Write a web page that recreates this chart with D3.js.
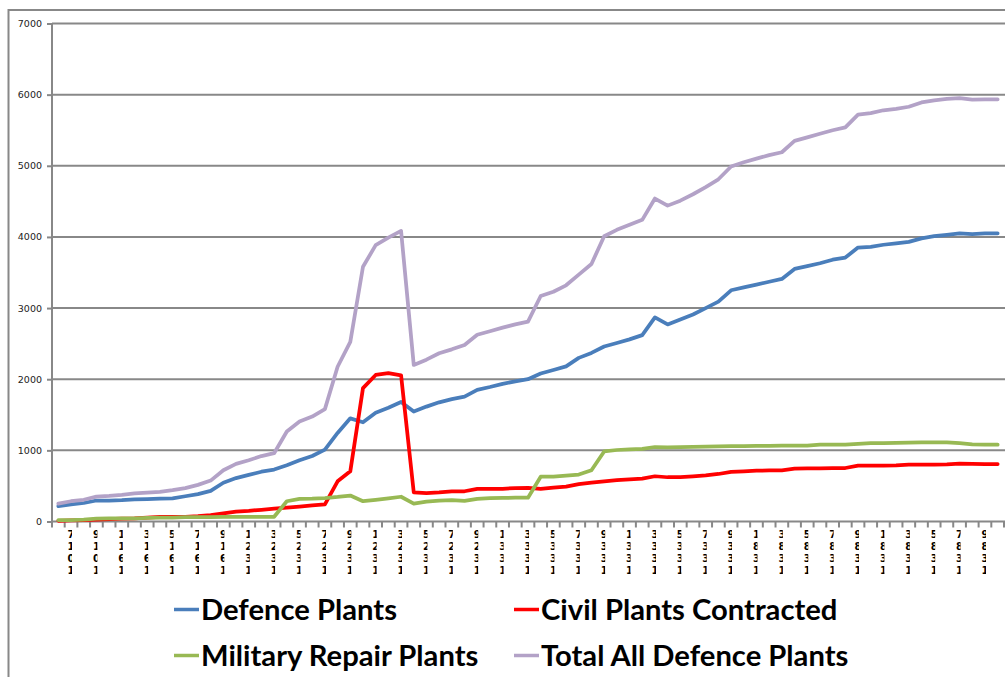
<!DOCTYPE html>
<html>
<head>
<meta charset="utf-8">
<script src="https://cdn.jsdelivr.net/npm/d3@7"></script>
<style>
  body { margin: 0; background: #fff; }
  svg { display: block; }
</style>
</head>
<body>
<svg id="chart" width="1005" height="677"></svg>
<script>
// data, one value per period (75 periods)
const defencePlants = [
  215, 240, 260, 295, 295, 300, 310, 315, 320, 325,
  355, 385, 430, 545, 610, 655, 700, 730, 790, 860,
  920, 1010, 1245, 1450, 1395, 1530, 1600, 1680, 1545, 1615,
  1675, 1720, 1755, 1850, 1890, 1935, 1970, 2000, 2080, 2130,
  2180, 2300, 2370, 2460, 2510, 2560, 2620, 2870, 2770, 2840,
  2910, 3000, 3090, 3250, 3290, 3330, 3370, 3410, 3550, 3590,
  3630, 3680, 3710, 3850, 3860, 3890, 3910, 3930, 3980, 4010,
  4030, 4050, 4040, 4050, 4050
];
const civilPlants = [
  10, 15, 20, 25, 35, 40, 45, 55, 65, 65,
  65, 75, 90, 115, 140, 150, 165, 180, 195, 210,
  225, 240, 565, 705, 1875, 2060, 2085, 2055, 410, 400,
  410, 425, 425, 458, 458, 460, 470, 472, 460, 475,
  490, 525, 545, 565, 580, 592, 602, 636, 622, 625,
  635, 648, 668, 697, 705, 715, 717, 719, 743, 745,
  748, 750, 752, 785, 786, 787, 788, 798, 800, 801,
  803, 812, 810, 808, 808
];
const militaryRepair = [
  20, 20, 25, 40, 45, 45, 45, 50, 55, 55,
  60, 60, 60, 65, 65, 65, 65, 66, 285, 318,
  320, 330, 345, 365, 285, 305, 325, 348, 252, 280,
  295, 300, 290, 318, 327, 332, 335, 335, 630, 630,
  645, 660, 720, 985, 1005, 1015, 1020, 1047, 1042, 1045,
  1050, 1053, 1056, 1058, 1060, 1062, 1063, 1065, 1065, 1065,
  1079, 1079, 1079, 1090, 1100, 1103, 1105, 1110, 1112, 1112,
  1112, 1100, 1085, 1080, 1080
];
const totalPlants = [
  250, 285, 305, 350, 360, 375, 395, 405, 415, 440,
  470, 515, 575, 720, 810, 860, 920, 960, 1265, 1405,
  1475, 1580, 2175, 2525, 3580, 3885, 3990, 4085, 2200, 2275,
  2365, 2420, 2480, 2625, 2675, 2725, 2770, 2810, 3170, 3230,
  3320, 3470, 3620, 4010, 4100, 4170, 4240, 4540, 4440, 4510,
  4600, 4700, 4810, 4990, 5050, 5100, 5150, 5190, 5350, 5400,
  5450, 5500, 5540, 5720, 5740, 5780, 5800, 5830, 5890, 5920,
  5940, 5950, 5930, 5935, 5935
];

// x labels on every other period, stacked one char per row (they are cut off in the original)
const tickLabels = [
  "7101", "9101", "1161", "3161", "5161", "7161", "9161",
  "1231", "3231", "5231", "7231", "9231", "1231", "3231", "5231", "7231", "9231",
  "1331", "3331", "5331", "7331", "9331", "1331", "3331", "5331", "7331", "9331",
  "1831", "3831", "5831", "7831", "9831", "1831", "3831", "5831", "7831", "9831"
];
const yTicks = [0, 1000, 2000, 3000, 4000, 5000, 6000, 7000];

const seriesNames = ["Defence Plants", "Civil Plants Contracted", "Military Repair Plants", "Total All Defence Plants"];
const seriesColors = ["#4a7ebb", "#ff0000", "#98b954", "#b3a2c7"];
const seriesData = [defencePlants, civilPlants, militaryRepair, totalPlants];

const svg = d3.select("#chart");
const gridColor = "#888888";

// outer chart border (runs off the right and bottom of the picture)
svg.append("rect")
  .attr("x", 8.5)
  .attr("y", 10)
  .attr("width", 1200)
  .attr("height", 900)
  .attr("fill", "none")
  .attr("stroke", gridColor)
  .attr("stroke-width", 2);

const x = d3.scaleBand()
  .domain(d3.range(defencePlants.length))
  .range([52, 1004]);

const y = d3.scaleLinear()
  .domain([0, 7000])
  .range([521.5, 23.5]);

const half = x.bandwidth() / 2;

// horizontal gridlines
svg.append("g")
  .selectAll("line")
  .data(yTicks.filter(d => d > 0))
  .enter()
  .append("line")
  .attr("x1", 52)
  .attr("x2", 1005)
  .attr("y1", d => y(d))
  .attr("y2", d => y(d))
  .attr("stroke", gridColor)
  .attr("stroke-width", 2);

// y axis
const yAxis = svg.append("g")
  .attr("transform", "translate(52,0)")
  .call(d3.axisLeft(y).tickValues(yTicks).tickSize(5).tickPadding(5).tickFormat(d3.format("d")));

yAxis.select(".domain")
  .attr("stroke", gridColor)
  .attr("stroke-width", 2)
  .attr("d", `M0,${y(7000)}V${y(0)}`);
yAxis.selectAll(".tick line").attr("stroke", gridColor).attr("stroke-width", 2);
yAxis.selectAll(".tick text")
  .attr("font-family", "DejaVu Sans, Verdana, sans-serif")
  .attr("font-size", 9.5)
  .attr("fill", "#222");

// x axis line and tick marks between categories
svg.append("line")
  .attr("x1", 52)
  .attr("x2", 1005)
  .attr("y1", y(0))
  .attr("y2", y(0))
  .attr("stroke", gridColor)
  .attr("stroke-width", 2);

const boundaries = x.domain().map(i => x(i)).concat([x(x.domain().length - 1) + x.bandwidth()]);
svg.append("g")
  .selectAll("line")
  .data(boundaries)
  .enter()
  .append("line")
  .attr("x1", d => d)
  .attr("x2", d => d)
  .attr("y1", y(0))
  .attr("y2", y(0) + 6)
  .attr("stroke", gridColor)
  .attr("stroke-width", 2);

// stacked labels, clipped like the original
const defs = svg.append("defs");
const rowY = [537.5, 549.5, 561.5, 573.5];

tickLabels.forEach((label, k) => {
  const idx = 2 * k + 1;
  const cx = x(idx) + half;

  defs.append("clipPath")
    .attr("id", "lab" + k)
    .append("rect")
    .attr("x", cx - 8)
    .attr("y", 525)
    .attr("width", 9)
    .attr("height", 55);

  // one text per label, one tspan per row
  const t = svg.append("g")
    .attr("clip-path", `url(#lab${k})`)
    .append("text")
    .attr("text-anchor", "middle")
    .attr("font-family", "DejaVu Sans, Verdana, sans-serif")
    .attr("font-weight", "bold")
    .attr("font-size", 10)
    .attr("fill", "#000");

  label.split("").forEach((ch, r) => {
    t.append("tspan")
      .attr("x", cx)
      .attr("y", rowY[r])
      .text(ch);
  });
});

// the series lines
const line = d3.line()
  .x((d, i) => x(i) + half)
  .y(d => y(d));

seriesData.forEach((data, i) => {
  svg.append("path")
    .datum(data)
    .attr("fill", "none")
    .attr("stroke", seriesColors[i])
    .attr("stroke-width", 3.75)
    .attr("stroke-linejoin", "round")
    .attr("stroke-linecap", "round")
    .attr("d", line);
});

// legend, two columns by two rows
const legendCols = [174, 514];
const legendRows = [609.5, 655.5];

const legend = svg.append("g")
  .attr("font-family", "Lato, 'Open Sans', sans-serif")
  .attr("font-weight", "bold")
  .attr("font-size", 29.2);

seriesNames.forEach((name, i) => {
  const lx = legendCols[i % 2];
  const ly = legendRows[Math.floor(i / 2)];
  const item = legend.append("g").attr("transform", `translate(${lx}, ${ly})`);

  item.append("line")
    .attr("x1", 0)
    .attr("x2", 25)
    .attr("stroke", seriesColors[i])
    .attr("stroke-width", 3.5);

  item.append("text")
    .attr("x", 27)
    .attr("y", 0)
    .attr("dy", "0.35em")
    .attr("fill", "#000")
    .text(name);
});
</script>
</body>
</html>
